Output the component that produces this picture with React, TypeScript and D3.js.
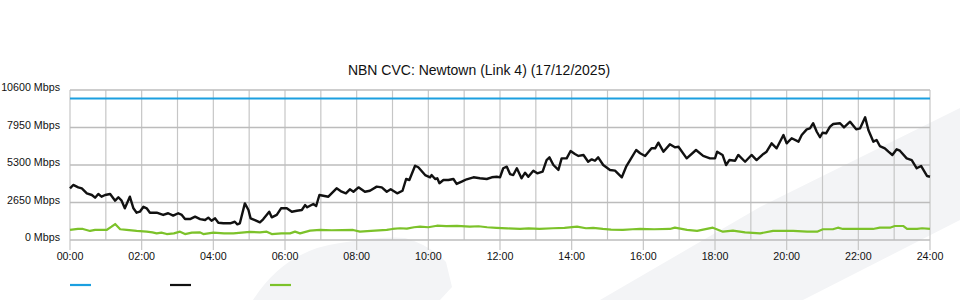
import React from "react";
import * as d3 from "d3";

const TITLE = "NBN CVC: Newtown (Link 4) (17/12/2025)";
const Y_TICKS = [0, 2650, 5300, 7950, 10600];
const HOURS = d3.range(0, 25);
const CAPACITY = 10000;

// [hour, Mbps]
const TRAFFIC_IN: [number, number][] = [
  [0, 3650], [0.09, 3890], [0.23, 3720], [0.33, 3650], [0.47, 3300], [0.61, 3180], [0.7, 2990],
  [0.79, 3250], [0.88, 3060], [0.98, 3180], [1.12, 3250], [1.26, 2780], [1.35, 3020], [1.44, 2780],
  [1.53, 2240], [1.67, 3060], [1.77, 2240], [1.86, 1930], [1.95, 2000], [2.05, 2350], [2.14, 2240],
  [2.23, 1930], [2.42, 1930], [2.6, 1770], [2.74, 1890], [2.88, 1720], [3.02, 1890], [3.12, 1770],
  [3.21, 1480], [3.35, 1480], [3.49, 1650], [3.63, 1480], [3.77, 1410], [3.86, 1580], [3.95, 1360],
  [4.05, 1530], [4.14, 1220], [4.28, 1180], [4.47, 1180], [4.6, 1290], [4.67, 1110], [4.74, 1180],
  [4.88, 2590], [4.98, 2120], [5.04, 1530], [5.16, 1410], [5.3, 1250], [5.39, 1460], [5.56, 2000],
  [5.63, 1600], [5.77, 1770], [5.89, 2240], [6.05, 2240], [6.19, 2000], [6.33, 2070], [6.47, 2120],
  [6.56, 2470], [6.62, 2310], [6.79, 2540], [6.87, 2400], [6.96, 3180], [7.21, 3060], [7.44, 3650],
  [7.58, 3410], [7.7, 3300], [7.81, 3580], [7.91, 3410], [8.05, 3720], [8.23, 3410], [8.37, 3480],
  [8.56, 3770], [8.7, 3720], [8.84, 3410], [8.95, 3580], [9.13, 3300], [9.28, 3480], [9.38, 4310],
  [9.47, 4240], [9.63, 5250], [9.72, 5140], [9.91, 4590], [10.05, 4430], [10.09, 4590], [10.19, 4310],
  [10.25, 4360], [10.31, 4010], [10.42, 4240], [10.56, 4240], [10.7, 4310], [10.79, 3960], [10.93, 4120],
  [11.07, 4290], [11.26, 4430], [11.44, 4360], [11.63, 4310], [11.77, 4430], [11.91, 4470], [12.0, 4430],
  [12.09, 5070], [12.19, 5180], [12.28, 4660], [12.37, 4590], [12.47, 5070], [12.6, 4360], [12.7, 4760],
  [12.79, 4470], [12.93, 4900], [13.04, 4710], [13.19, 4830], [13.3, 5650], [13.38, 5840], [13.49, 5300],
  [13.63, 4950], [13.72, 5770], [13.86, 5770], [13.97, 6290], [14.09, 6080], [14.19, 5940], [14.33, 6010],
  [14.46, 5530], [14.56, 5700], [14.65, 5600], [14.74, 5840], [14.88, 5300], [15.07, 4950], [15.21, 4900],
  [15.4, 4430], [15.52, 5180], [15.63, 5650], [15.8, 6360], [15.91, 6130], [16.05, 5940], [16.23, 6480],
  [16.33, 6480], [16.42, 6880], [16.56, 6240], [16.74, 6760], [16.88, 6550], [16.98, 6590], [17.21, 5770],
  [17.47, 6360], [17.67, 5940], [17.86, 5770], [18.0, 5770], [18.06, 6240], [18.21, 6010], [18.31, 5300],
  [18.4, 5650], [18.56, 5600], [18.65, 6010], [18.84, 5530], [19.02, 6010], [19.16, 5650], [19.35, 6080],
  [19.44, 6240], [19.58, 6830], [19.72, 6480], [19.91, 7420], [20.0, 6830], [20.14, 7190], [20.33, 6950],
  [20.42, 7420], [20.56, 7820], [20.65, 7890], [20.74, 8250], [20.84, 7650], [20.93, 7260], [21.0, 7580],
  [21.1, 7540], [21.21, 8010], [21.3, 8200], [21.49, 8250], [21.6, 7960], [21.77, 8360], [21.94, 7820],
  [22.05, 7890], [22.19, 8670], [22.28, 7770], [22.42, 6950], [22.51, 7070], [22.6, 6640], [22.74, 6480],
  [22.84, 6240], [22.95, 6010], [23.07, 6410], [23.16, 6310], [23.35, 5770], [23.49, 5650], [23.63, 5070],
  [23.75, 5230], [23.92, 4520], [24.0, 4470],
];

const TRAFFIC_OUT: [number, number][] = [
  [0, 710], [0.22, 780], [0.36, 780], [0.56, 640], [0.7, 710], [1.02, 710], [1.16, 940], [1.26, 1130],
  [1.4, 760], [1.58, 710], [1.86, 640], [2.14, 590], [2.3, 540], [2.42, 470], [2.55, 520], [2.7, 420],
  [2.9, 470], [3.07, 590], [3.21, 420], [3.4, 520], [3.63, 540], [3.72, 420], [4.0, 520], [4.3, 470],
  [4.56, 470], [5.02, 570], [5.3, 540], [5.49, 590], [5.63, 420], [5.9, 470], [6.14, 470],
  [6.28, 590], [6.42, 470], [6.7, 660], [6.98, 710], [7.3, 690], [7.6, 700], [7.9, 710], [8.09, 590],
  [8.4, 640], [8.84, 710], [9.0, 780], [9.21, 830], [9.4, 800], [9.6, 900], [9.77, 940], [10.0, 900],
  [10.24, 1010], [10.5, 980], [10.8, 1000], [11.16, 940], [11.4, 970], [11.64, 900], [11.9, 860],
  [12.2, 820], [12.56, 780], [12.8, 820], [13.1, 780], [13.48, 830], [13.8, 860], [14.15, 940],
  [14.4, 830], [14.6, 860], [14.87, 780], [15.1, 740], [15.43, 710], [15.7, 760], [15.91, 780],
  [16.3, 760], [16.74, 780], [16.88, 870], [17.22, 710], [17.5, 640], [17.94, 870], [18.22, 590],
  [18.5, 660], [18.84, 540], [19.26, 470], [19.62, 640], [20.18, 640], [20.57, 590], [20.85, 590],
  [21.01, 760], [21.29, 760], [21.43, 870], [21.57, 780], [22.0, 780], [22.41, 780], [22.6, 870],
  [22.88, 870], [23.02, 990], [23.25, 990], [23.36, 780], [23.64, 780], [23.78, 830], [24.0, 780],
];

const COLORS = { capacity: "#1b9fe0", inbound: "#111111", outbound: "#7cc22a" };
const FONT = "'Liberation Sans', Arial, Helvetica, sans-serif";

export default function App() {
  const W = 960, H = 300;
  const x = d3.scaleLinear().domain([0, 24]).range([70, 930]);
  const y = d3.scaleLinear().domain([0, 10600]).range([240, 90]);
  const line = d3
    .line<[number, number]>()
    .x((d) => x(d[0]))
    .y((d) => y(d[1]));
  const hourLabel = (h: number) => `${String(h).padStart(2, "0")}:00`;

  return (
    <svg
      width={W}
      height={H}
      style={{ position: "absolute", left: 0, top: 0, background: "#fff" }}
      fontFamily={FONT}
    >
      {/* watermark */}
      <path d="M253,300 Q285,250 340,243 Q385,236 405,238 Q430,245 446,262 L452,287 L440,300 Z" fill="#f3f4f6" />
      <path d="M600,300 L760,207 L960,108 L960,220 L803,300 Z" fill="#f3f4f6" />

      <text x={479} y={75} textAnchor="middle" fontSize={14} fill="#111">
        {TITLE}
      </text>

      {/* vertical grid */}
      {HOURS.map((h) => (
        <line
          key={"v" + h}
          x1={x(h)}
          x2={x(h)}
          y1={90}
          y2={h % 2 === 0 ? 250 : 240}
          stroke="#c6c6c6"
          strokeWidth={1.2}
        />
      ))}
      {/* horizontal grid */}
      {Y_TICKS.map((t) => (
        <line key={"h" + t} x1={70} x2={930} y1={y(t)} y2={y(t)} stroke="#bcbcbc" strokeWidth={1.6} />
      ))}

      {Y_TICKS.map((t) => (
        <text key={"yl" + t} x={60} y={y(t) + 1} textAnchor="end" fontSize={10.7} fill="#111">
          {`${t} Mbps`}
        </text>
      ))}
      {HOURS.filter((h) => h % 2 === 0).map((h) => (
        <text key={"xl" + h} x={x(h)} y={260} textAnchor="middle" fontSize={10.7} fill="#111">
          {hourLabel(h)}
        </text>
      ))}

      <line x1={x(0)} x2={x(24)} y1={y(CAPACITY)} y2={y(CAPACITY)} stroke={COLORS.capacity} strokeWidth={2.2} />
      <path d={line(TRAFFIC_OUT) || ""} fill="none" stroke={COLORS.outbound} strokeWidth={2.2} strokeLinejoin="round" />
      <path d={line(TRAFFIC_IN) || ""} fill="none" stroke={COLORS.inbound} strokeWidth={2.4} strokeLinejoin="round" />

      {/* legend */}
      {[COLORS.capacity, COLORS.inbound, COLORS.outbound].map((c, i) => (
        <line key={"lg" + i} x1={70 + i * 100} x2={91 + i * 100} y1={285} y2={285} stroke={c} strokeWidth={2.2} />
      ))}
    </svg>
  );
}
